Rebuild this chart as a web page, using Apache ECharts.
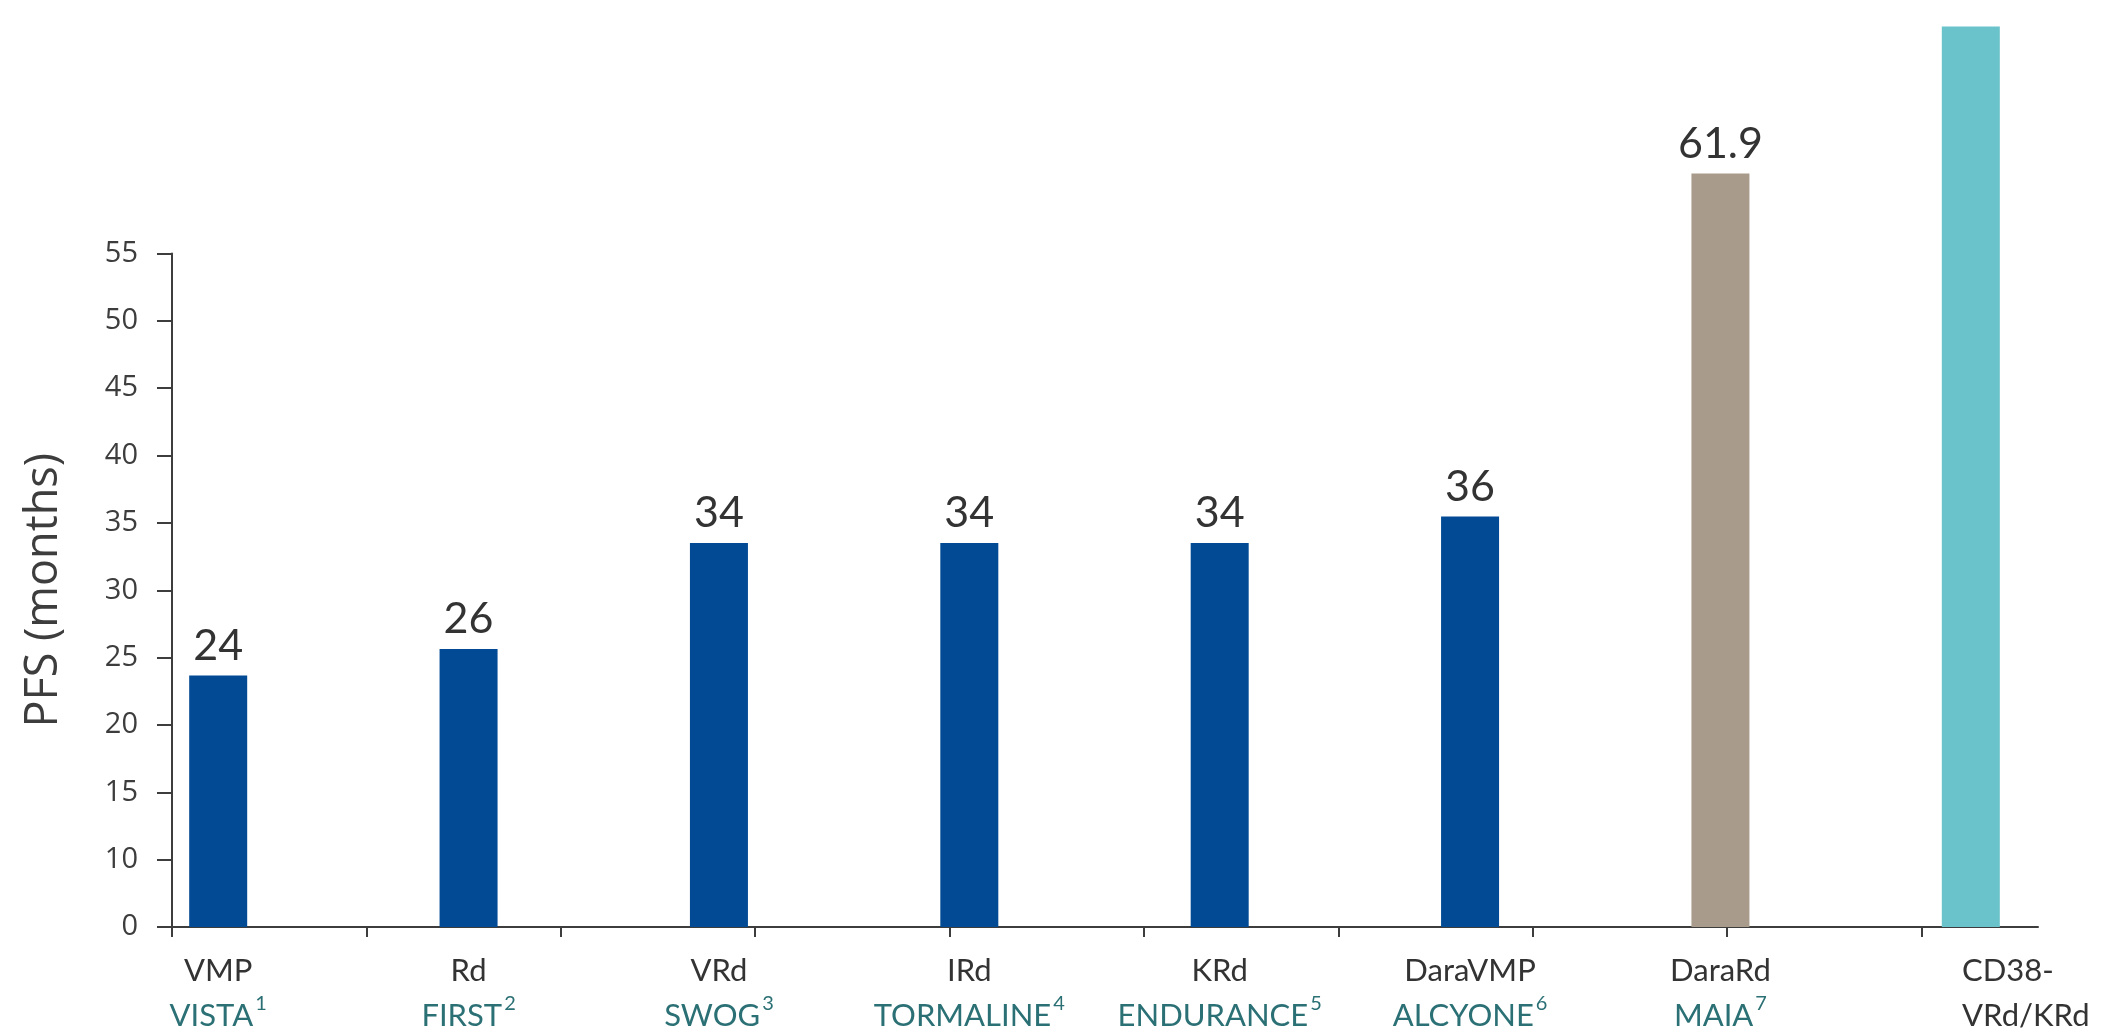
<!DOCTYPE html>
<html>
<head>
<meta charset="utf-8">
<title>PFS by regimen</title>
<script src="https://cdn.jsdelivr.net/npm/echarts@6/dist/echarts.min.js"></script>
<style>
  html, body { margin: 0; padding: 0; background: #ffffff; }
  #chart { width: 2108px; height: 1036px; }
</style>
</head>
<body>
<div id="chart"></div>
<script>
// Regimen (first label line), trial name and reference number (second line)
const regimens = ['VMP', 'Rd', 'VRd', 'IRd', 'KRd', 'DaraVMP', 'DaraRd', 'CD38-\nVRd/KRd'];
const trials = ['VISTA', 'FIRST', 'SWOG', 'TORMALINE', 'ENDURANCE', 'ALCYONE', 'MAIA', ''];
const refs = ['1', '2', '3', '4', '5', '6', '7', ''];

// Median PFS in months (last bar has no stated value)
const pfsMonths = [24, 26, 34, 34, 34, 36, 61.9, 73];
const showValue = [true, true, true, true, true, true, true, false];
const barGroup = ['std', 'std', 'std', 'std', 'std', 'std', 'dara', 'cd38'];

// Y axis: the 0-10 band is compressed into a single step
const yTickLabels = ['0', '10', '15', '20', '25', '30', '35', '40', '45', '50', '55'];
const yAxisMin = 5;
const yAxisMax = 55;
const yStep = 5;

// Evenly spaced tick marks along the baseline
const xTickSlots = [0, 1, 2, 3, 4, 5, 6, 7, 8, 9];
const xSlotMax = 9.6;

const groupColors = { std: '#024a94', dara: '#a89b8c', cd38: '#6ac3cb' };
const axisColor = '#3d3d3d';
const textColor = '#333333';
const trialColor = '#2b7075';

// Layout: both grids share one vertical scale
const plotBottom = 109;
const axisTop = 253.5;
const chartH = 1036;
const pxPerUnit = (chartH - plotBottom - axisTop) / (yAxisMax - yAxisMin);
const barAxisMax = 75;
const barGridTop = chartH - plotBottom - (barAxisMax - yAxisMin) * pxPerUnit;

const chart = echarts.init(document.getElementById('chart'), null, { renderer: 'canvas' });

const categoryLabel = (value, i) => {
  if (trials[i]) {
    return '{reg|' + regimens[i] + '}\n{trial|' + trials[i] + '}{sup|' + refs[i] + '}';
  }
  return regimens[i].split('\n').map(s => '{cd|' + s + '}').join('\n');
};

chart.setOption({
  backgroundColor: '#ffffff',
  animation: false,
  grid: [
    { left: 93, right: 12, top: barGridTop, bottom: plotBottom },
    { left: 172, right: 70, top: axisTop, bottom: plotBottom }
  ],
  xAxis: [
    {
      gridIndex: 0,
      type: 'category',
      data: regimens,
      axisLine: { show: false },
      axisTick: { show: false },
      axisLabel: {
        interval: 0,
        margin: 21,
        formatter: categoryLabel,
        rich: {
          reg: { fontFamily: 'Lato', fontSize: 31, color: textColor, lineHeight: 45 },
          trial: { fontFamily: 'Lato', fontSize: 31, color: trialColor, lineHeight: 45 },
          sup: { fontFamily: 'Lato', fontSize: 20, color: trialColor, lineHeight: 20,
                 verticalAlign: 'top', padding: [1, 0, 0, 2] },
          cd: { fontFamily: 'Lato', fontSize: 31, color: textColor, lineHeight: 45,
                align: 'left', padding: [0, 0, 0, 110] }
        }
      }
    },
    {
      gridIndex: 1,
      type: 'value',
      min: 0,
      max: xSlotMax,
      interval: 1,
      axisLine: { show: true, onZero: false, lineStyle: { color: axisColor, width: 2 } },
      axisTick: { show: true, length: 10, customValues: xTickSlots,
                  lineStyle: { color: axisColor, width: 2 } },
      axisLabel: { show: false },
      splitLine: { show: false }
    }
  ],
  yAxis: [
    {
      gridIndex: 0,
      type: 'value',
      min: yAxisMin,
      max: barAxisMax,
      show: false,
      splitLine: { show: false }
    },
    {
      gridIndex: 1,
      type: 'value',
      min: yAxisMin,
      max: yAxisMax,
      interval: yStep,
      axisLine: { show: true, onZero: false, lineStyle: { color: axisColor, width: 2 } },
      axisTick: { show: true, length: 15, lineStyle: { color: axisColor, width: 2 } },
      splitLine: { show: false },
      axisLabel: {
        margin: 34,
        fontFamily: 'Open Sans',
        fontSize: 29,
        color: axisColor,
        formatter: v => yTickLabels[Math.round((v - yAxisMin) / yStep)]
      },
      name: 'PFS (months)',
      nameLocation: 'middle',
      nameGap: 105,
      nameTextStyle: { fontFamily: 'Open Sans', fontSize: 45, color: axisColor }
    }
  ],
  series: [
    {
      type: 'bar',
      xAxisIndex: 0,
      yAxisIndex: 0,
      clip: true,
      barWidth: 58,
      data: pfsMonths.map((v, i) => ({
        value: v,
        itemStyle: { color: groupColors[barGroup[i]] },
        label: { show: showValue[i] }
      })),
      label: {
        position: 'top',
        distance: 8,
        fontFamily: 'Lato',
        fontSize: 43,
        color: textColor,
        formatter: p => String(p.value)
      }
    }
  ]
});
</script>
</body>
</html>
